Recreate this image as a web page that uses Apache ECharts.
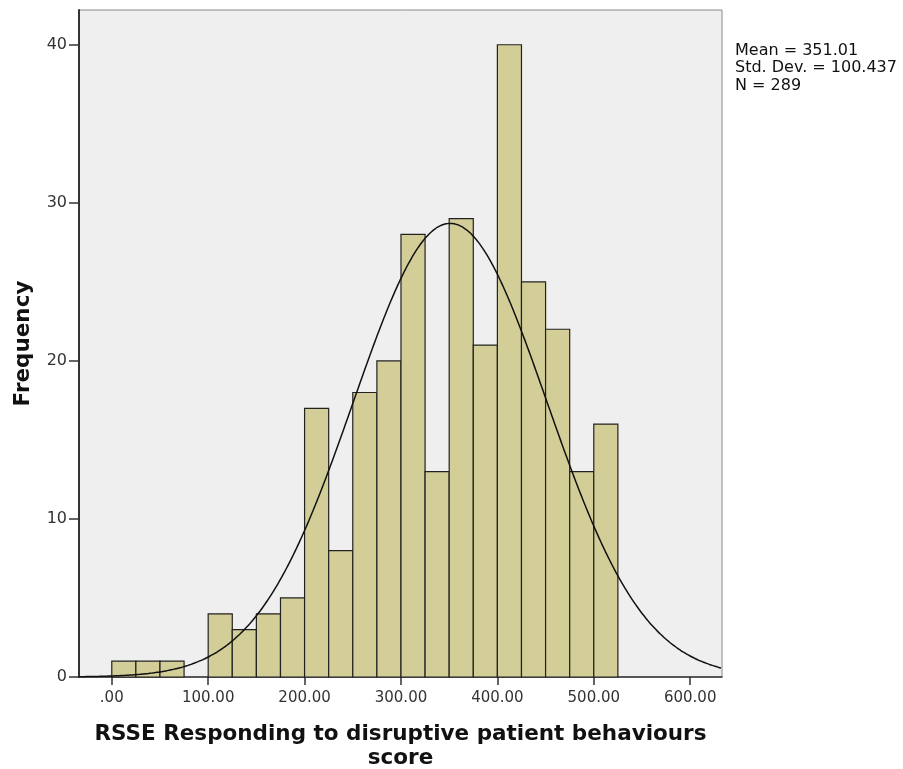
<!DOCTYPE html>
<html><head><meta charset="utf-8">
<script src="https://cdn.jsdelivr.net/npm/echarts@6/dist/echarts.min.js"></script>
<style>html,body{margin:0;padding:0;background:#fff}#c{width:903px;height:769px}</style>
</head><body><div id="c"></div>
<script>
// Histogram bins (lower edge) and counts
const binStarts = [0,25,50,75,100,125,150,175,200,225,250,275,300,325,350,375,400,425,450,475,500];
const counts    = [1,1,1,0,4,3,4,5,17,8,18,20,28,13,29,21,40,25,22,13,16];
const binWidth = 25;
const xTicks = [0,100,200,300,400,500,600];
const yTicks = [0,10,20,30,40];
const statMean = 351.01, statSD = 100.437, statN = 289;
const statLines = ['Mean = 351.01','Std. Dev. = 100.437','N = 289'];

const xMin = -34, xMax = 633, yMax = 42.2;

const barData = binStarts.map((s,i)=>[s, s+binWidth, counts[i]]);
// fitted normal curve from the stated mean / sd / N
const curve = [];
for (let x = xMin; x <= xMax; x += 3) {
  const z = (x - statMean)/statSD;
  curve.push([x, statN*binWidth/(statSD*Math.sqrt(2*Math.PI))*Math.exp(-0.5*z*z)]);
}

const chart = echarts.init(document.getElementById('c'));
const font = '"DejaVu Sans", sans-serif';
chart.setOption({
  animation:false,
  backgroundColor:'#fff',
  grid:{left:79, top:10, right:181, bottom:92, outerBoundsMode:'none', containLabel:false,
        show:true, backgroundColor:'#EFEFEF', borderColor:'#8a8a8a', borderWidth:1},
  xAxis:{type:'value', min:xMin, max:xMax,
    name:'RSSE Responding to disruptive patient behaviours\nscore', nameLocation:'middle', nameGap:33,
    nameTextStyle:{fontFamily:font, fontWeight:'bold', fontSize:21.5, color:'#111', lineHeight:24, padding:[12,0,0,0]},
    axisLine:{show:true, onZero:false, lineStyle:{color:'#333', width:1.5}},
    axisTick:{show:true, customValues:xTicks, length:8, lineStyle:{color:'#333', width:1.5}},
    axisLabel:{customValues:xTicks, formatter:v=> v===0 ? '.00' : v.toFixed(2), fontFamily:font, fontSize:15, color:'#333', margin:14},
    splitLine:{show:false}},
  yAxis:{type:'value', min:0, max:yMax,
    name:'Frequency', nameLocation:'middle', nameGap:45, nameRotate:90,
    nameTextStyle:{fontFamily:font, fontWeight:'bold', fontSize:21.5, color:'#111'},
    axisLine:{show:true, onZero:false, lineStyle:{color:'#333', width:2}},
    axisTick:{show:true, customValues:yTicks, length:10, lineStyle:{color:'#333', width:1.5}},
    axisLabel:{customValues:yTicks, fontFamily:font, fontSize:16, color:'#333', margin:12},
    splitLine:{show:false}},
  graphic:[{type:'text', left:735, top:42, style:{text:statLines.join('\n'), font:'16px '+font, fill:'#111', lineHeight:17.5}}],
  series:[
    {type:'custom', data:barData, encode:{x:[0,1], y:2},
     renderItem:(params, api)=>{
       const p0 = api.coord([api.value(0), 0]);
       const p1 = api.coord([api.value(1), api.value(2)]);
       if (api.value(2) === 0) return null;
       return {type:'rect', shape:{x:p0[0], y:p1[1], width:p1[0]-p0[0], height:p0[1]-p1[1]},
         style:{fill:'#D3CE97', stroke:'#222', lineWidth:1.2}};
     }},
    {type:'line', data:curve, showSymbol:false, smooth:true, lineStyle:{color:'#111', width:1.5}, z:5}
  ]
});
</script></body></html>
